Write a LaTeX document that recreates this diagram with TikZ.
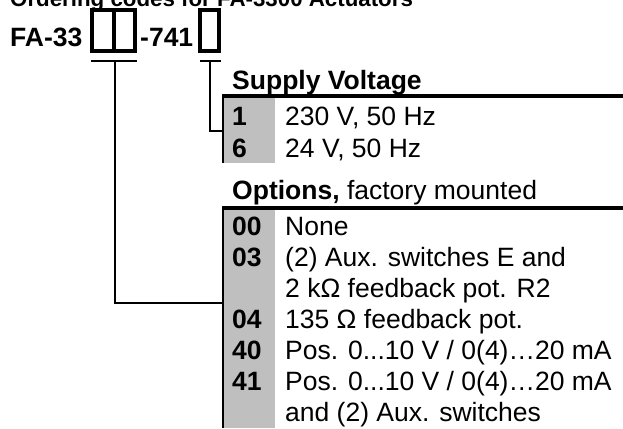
\documentclass[tikz,border=0pt]{standalone}
\usepackage{fontspec}
\setmainfont{Liberation Sans}
\begin{document}
\begin{tikzpicture}[x=1pt,y=-1pt,
  txt/.style={anchor=base west,inner sep=0pt,font=\fontsize{26.5}{31}\selectfont},
  code/.style={anchor=base west,inner sep=0pt,font=\fontsize{26.5}{31}\selectfont\bfseries},
  codebox/.style={draw,line width=4pt,inner sep=0pt,minimum height=41pt},
  conn/.style={line width=2pt},
  heavy/.style={line width=4pt},
  border/.style={line width=2.5pt},
  graycol/.style={fill=black!25}]
\useasboundingbox (0,0) rectangle (623,428);
% title (partly cut)
\node[anchor=base west,inner sep=0pt,font=\fontsize{22.3}{26}\selectfont\bfseries] (title) at (10,6.5) {Ordering codes for FA-3300 Actuators};
% part number
\node[code] (fa) at (10,47) {FA-33};
\node[codebox,minimum width=43pt] (b1) at (113.5,30.5) {};
\draw[line width=4pt] (b1.north) -- (b1.south);
\node[code] (n741) at (140,47) {-741};
\node[codebox,minimum width=19pt] (b2) at (209.5,30.5) {};
% underlines
\coordinate (u1a) at (91,61);
\coordinate (u1b) at (137,61);
\coordinate (u1m) at (115,61);
\coordinate (u2a) at (200,61);
\coordinate (u2b) at (221,61);
\coordinate (u2m) at (210,61);
\draw[conn] (u1a) -- (u1b);
\draw[conn] (u2a) -- (u2b);
% Supply Voltage table
\fill[graycol] (223,96) rectangle (275,163);
\draw[heavy] (222,96) -- (623,96);
\draw[border] (223.2,96) -- (223.2,163);
\node[code] (svh) at (232,89) {Supply Voltage};
\node[code] (c1) at (232,125.5) {1};
\node[txt] (d1) at (285,125.5) {230 V, 50 Hz};
\node[code] (c6) at (232,157.5) {6};
\node[txt] (d6) at (285,157.5) {24 V, 50 Hz};
\coordinate (svin) at (222,131);
\draw[conn] (u2m) |- (svin);
% Options table
\fill[graycol] (223,208) rectangle (275,428);
\draw[heavy] (222,208) -- (623,208);
\draw[border] (223.2,208) -- (223.2,428);
\node[txt] (oph) at (232,199) {\textbf{Options,} factory mounted};
\node[code] (c00) at (232,235) {00};
\node[txt] (d00) at (285,235) {None};
\node[code] (c03) at (232,266) {03};
\node[txt] (d03) at (285,266) {(2) Aux. switches E and};
\node[txt] (d03b) at (285,297) {2 kΩ feedback pot. R2};
\node[code] (c04) at (232,328) {04};
\node[txt] (d04) at (285,328) {135 Ω feedback pot.};
\node[code] (c40) at (232,359) {40};
\node[txt] (d40) at (285,359) {Pos. 0...10 V / 0(4)…20 mA};
\node[code] (c41) at (232,390) {41};
\node[txt] (d41) at (285,390) {Pos. 0...10 V / 0(4)…20 mA};
\node[txt] (d41b) at (285,421) {and (2) Aux. switches};
\coordinate (opin) at (222,303);
\draw[conn] (u1m) |- (opin);
\end{tikzpicture}
\end{document}
